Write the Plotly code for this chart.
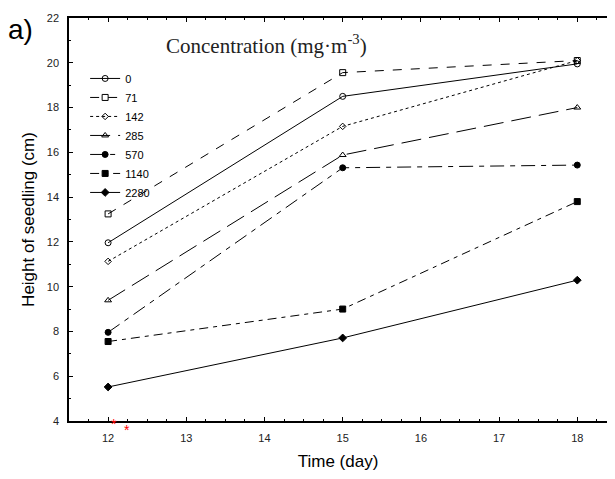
import plotly.graph_objects as go

# Data
days = [12, 15, 18]
labels = ['0', '71', '142', '285', '570', '1140', '2280']
h_0 = [11.96, 18.5, 19.95]
h_71 = [13.25, 19.56, 20.1]
h_142 = [11.13, 17.16, 20.1]
h_285 = [9.39, 15.88, 18.0]
h_570 = [7.96, 15.31, 15.43]
h_1140 = [7.55, 9.0, 13.8]
h_2280 = [5.52, 7.71, 10.29]

series = [h_0, h_71, h_142, h_285, h_570, h_1140, h_2280]
symbols = ['circle-open', 'square-open', 'diamond-open', 'triangle-up-open',
           'circle', 'square', 'diamond']
dashes = ['solid', 'dash', 'dot', '20px,8px', '14px,6px,5px,6px',
          '9px,5px,4px,5px', 'solid']
msizes = [6, 6, 5, 6, 6, 6, 6]

fig = go.Figure()
for lab, vals, sym, dsh, ms in zip(labels, series, symbols, dashes, msizes):
    fig.add_trace(go.Scatter(
        x=days, y=vals, name=lab, mode='lines+markers',
        line=dict(color='black', width=1, dash=dsh),
        marker=dict(symbol=sym, size=ms, color='black',
                    line=dict(color='black', width=1)),
    ))

axis_font = dict(family='Liberation Sans, Arial', size=11, color='#222')
yrange = [4, 22]

# page body has an 8px margin, so the figure is sized to fit inside the window
fig.update_layout(
    width=599, height=463,
    margin=dict(l=61, r=0, t=10, b=50),
    plot_bgcolor='white', paper_bgcolor='white',
    font=dict(family='Liberation Sans, Arial', color='black'),
    legend=dict(x=0.03, y=0.886, xanchor='left', yanchor='top',
                bgcolor='rgba(0,0,0,0)', font=dict(size=11),
                itemwidth=30, tracegroupgap=0),
    xaxis=dict(
        range=[11.5, 18.38], tickvals=[12, 13, 14, 15, 16, 17, 18],
        ticks='inside', ticklen=4, tickcolor='black', showline=True,
        linecolor='black', linewidth=1.5, mirror='ticks', showgrid=False,
        zeroline=False, tickfont=axis_font, automargin=False,
        ticklabelstandoff=6,
        minor=dict(dtick=0.25, ticks='inside', ticklen=2, tickcolor='black'),
        title=dict(text='Time (day)', font=dict(size=17), standoff=25),
    ),
    yaxis=dict(
        range=yrange, dtick=2, ticks='inside', ticklen=4, tickcolor='black',
        showline=True, linecolor='black', linewidth=1.5, mirror=False,
        showgrid=False, zeroline=False, tickfont=axis_font, automargin=False,
        ticklabelstandoff=6,
        minor=dict(dtick=1, ticks='inside', ticklen=2, tickcolor='black'),
        title=dict(text='Height of seedling (cm)', font=dict(size=17),
                   standoff=8),
    ),
    # right-hand ticks without an axis line
    yaxis2=dict(
        range=yrange, dtick=2, overlaying='y', side='right', showline=False,
        ticks='inside', ticklen=4, tickcolor='black', showticklabels=False,
        showgrid=False, zeroline=False, automargin=False,
        minor=dict(dtick=1, ticks='inside', ticklen=2, tickcolor='black'),
    ),
    annotations=[
        dict(text='a)', xref='paper', yref='paper', x=-0.117, y=0.972,
             xanchor='left', yanchor='middle', showarrow=False,
             font=dict(size=28, color='black')),
        dict(text='Concentration (mg·m<sup>-3</sup>)', xref='paper',
             yref='paper', x=0.176, y=0.935, xanchor='left',
             yanchor='middle', showarrow=False,
             font=dict(family='Liberation Serif, Times New Roman', size=21,
                       color='#222')),
        dict(text='*', xref='x', yref='paper', x=12.08, y=-0.033,
             showarrow=False, font=dict(size=14, color='red')),
        dict(text='*', xref='x', yref='paper', x=12.24, y=-0.046,
             showarrow=False, font=dict(size=14, color='red')),
    ],
)

fig.write_html('out.html')
